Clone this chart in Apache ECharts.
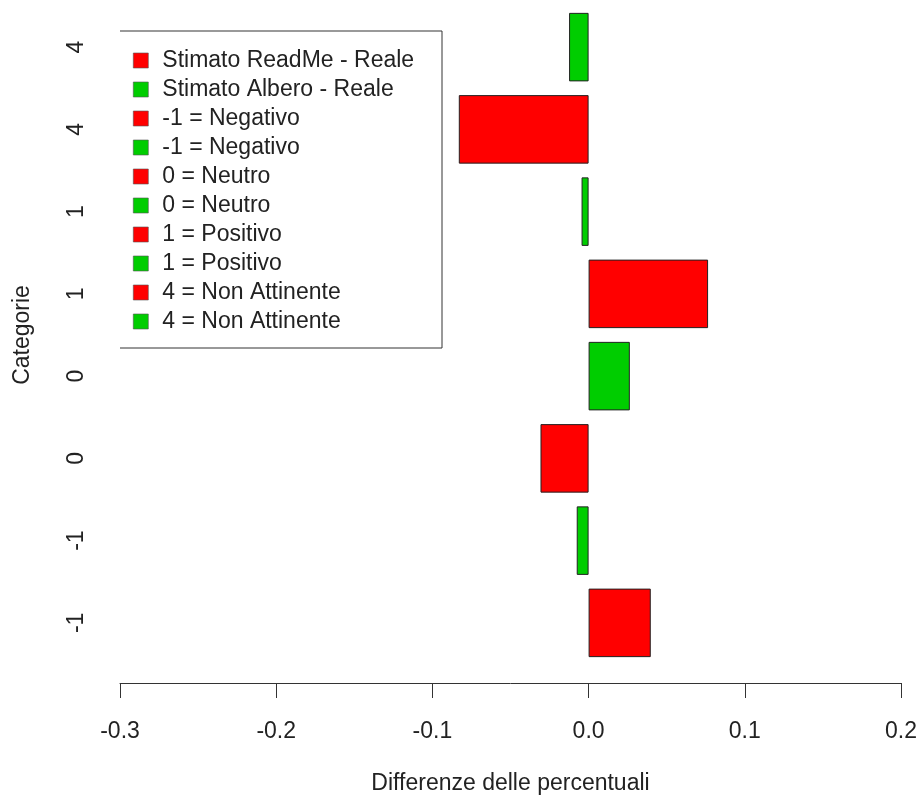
<!DOCTYPE html>
<html>
<head>
<meta charset="utf-8">
<script src="https://cdn.jsdelivr.net/npm/echarts@6/dist/echarts.min.js"></script>
<style>
html,body{margin:0;padding:0;background:#fff;}
#chart{width:922px;height:802px;}
</style>
</head>
<body>
<div id="chart"></div>
<script>
// Categories, bottom to top
const categories = ['-1', '-1', '0', '0', '1', '1', '4', '4'];
// Red series: Stimato ReadMe - Reale
const readmeValues = [0.0398, null, -0.0308, null, 0.0765, null, -0.0831, null];
// Green series: Stimato Albero - Reale
const alberoValues = [null, -0.0076, null, 0.0264, null, -0.0045, null, -0.0125];
// Legend entries (top to bottom)
const legendLabels = [
  'Stimato ReadMe - Reale', 'Stimato Albero - Reale',
  '-1 = Negativo', '-1 = Negativo',
  '0 = Neutro', '0 = Neutro',
  '1 = Positivo', '1 = Positivo',
  '4 = Non Attinente', '4 = Non Attinente'
];
const xMin = -0.3, xMax = 0.2, xStep = 0.1;
const xTitle = 'Differenze delle percentuali';
const yTitle = 'Categorie';

const RED = '#FF0000', GREEN = '#00CD00';
const FONT = 'Liberation Sans';
const FS = 23;
const TXT = '#222';

const chart = echarts.init(document.getElementById('chart'), null, {renderer: 'canvas'});

const legendIds = legendLabels.map((l, i) => 'leg' + i);
const legendColorOf = i => (i % 2 === 0 ? RED : GREEN);

const series = [
  {
    name: legendIds[0], type: 'bar', stack: 'all', data: readmeValues,
    barCategoryGap: '16.7%',
    itemStyle: {color: RED, borderColor: '#222', borderWidth: 1}
  },
  {
    name: legendIds[1], type: 'bar', stack: 'all', data: alberoValues,
    barCategoryGap: '16.7%',
    itemStyle: {color: GREEN, borderColor: '#222', borderWidth: 1}
  }
];
for (let i = 2; i < legendIds.length; i++) {
  series.push({
    name: legendIds[i], type: 'bar', stack: 'all', data: [],
    itemStyle: {color: legendColorOf(i)}
  });
}

const option = {
  animation: false,
  backgroundColor: '#fff',
  textStyle: {fontFamily: FONT},
  grid: {left: 120, right: 21, top: 6, bottom: 138, containLabel: false},
  xAxis: {
    type: 'value', min: xMin, max: xMax, interval: xStep,
    position: 'bottom', offset: 19,
    axisLine: {show: true, lineStyle: {color: '#333', width: 1}},
    axisTick: {show: true, length: 15, lineStyle: {color: '#333', width: 1}},
    splitLine: {show: false},
    axisLabel: {
      margin: 37, fontFamily: FONT, fontSize: FS, color: TXT,
      formatter: v => (Math.abs(v) < 1e-9 ? 0 : v).toFixed(1)
    },
    name: xTitle, nameLocation: 'middle', nameGap: 89,
    nameTextStyle: {fontFamily: FONT, fontSize: FS, color: TXT}
  },
  yAxis: {
    type: 'category', data: categories, dedplication: false,
    axisLine: {show: false}, axisTick: {show: false}, splitLine: {show: false},
    axisLabel: {rotate: 90, margin: 32, fontFamily: FONT, fontSize: FS, color: TXT},
    name: yTitle, nameLocation: 'middle', nameGap: 86,
    nameTextStyle: {fontFamily: FONT, fontSize: FS, color: TXT}
  },
  legend: {
    orient: 'vertical', left: 133, top: 49, padding: 0,
    itemWidth: 15, itemHeight: 15, itemGap: 6,
    selectedMode: false,
    data: legendIds.map((id, i) => ({
      name: id, icon: 'rect',
      itemStyle: {color: legendColorOf(i), borderColor: '#555', borderWidth: 0.6}
    })),
    formatter: name => legendLabels[legendIds.indexOf(name)],
    textStyle: {fontFamily: FONT, fontSize: FS, color: TXT, lineHeight: 23, padding: [0, 0, 0, 9]}
  },
  graphic: [
    {type: 'line', silent: true, shape: {x1: 120, y1: 31, x2: 442, y2: 31},
     style: {stroke: '#999', lineWidth: 2}},
    {type: 'polyline', silent: true, shape: {points: [[442, 31], [442, 348], [120, 348]]},
     style: {stroke: '#333', lineWidth: 1, fill: null}}
  ],
  series: series
};
chart.setOption(option);
</script>
</body>
</html>
